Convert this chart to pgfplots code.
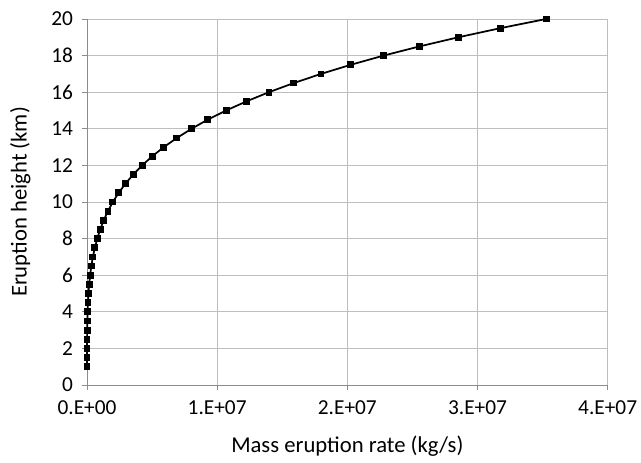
\documentclass[border=0pt]{standalone}
\usepackage{pgfplots}
\pgfplotsset{compat=1.18}
\usepackage{fontspec}
\setmainfont{Carlito}
\definecolor{gridc}{RGB}{190,190,190}
\definecolor{axisc}{RGB}{140,140,140}
\begin{document}
\begin{tikzpicture}
\path[use as bounding box] (-65.25pt,-57.75pt) rectangle (415.5pt,288.75pt);
\begin{axis}[
  at={(0,0)}, anchor=south west,
  scale only axis, width=390.5pt, height=274.5pt,
  xmin=0, xmax=4e7, ymin=0, ymax=20,
  xtick={0,1e7,2e7,3e7,4e7},
  xticklabels={0.E+00,1.E+07,2.E+07,3.E+07,4.E+07},
  scaled x ticks=false,
  ytick={0,2,...,20},
  /pgf/number format/assume math mode=true,
  font=\fontsize{17}{19}\selectfont,
  tick label style={font=\fontsize{16}{18}\selectfont},
  xticklabel style={yshift=-4pt},
  yticklabel style={xshift=-3pt},
  grid=major,
  major grid style={gridc, line width=0.6pt},
  axis line style={axisc, line width=0.6pt},
  tick style={axisc, line width=0.6pt},
  tick align=outside, major tick length=4pt,
  axis lines*=left,
  xlabel={Mass eruption rate (kg/s)},
  ylabel={Eruption height (km)},
  xlabel style={at={(axis description cs:0.5,-0.167)}, anchor=center},
  ylabel style={at={(axis description cs:-0.128,0.5)}, anchor=center},
  clip=false,
]
\addplot[black, line width=1.3pt, mark=square*, mark size=1.9pt, mark options={solid}] coordinates {
(141,1) (758,1.5) (2500,2) (6310,2.5) (13447,3) (25492,3.5) (44362,4)
(72330,4.5) (112000,5) (166300,5.5) (238600,6) (332600,6.5) (452400,7)
(602300,7.5) (787200,8) (1012000,8.5) (1283000,9) (1606000,9.5) (1985000,10)
(2431000,10.5) (2950000,11) (3548000,11.5) (4234000,12) (5015000,12.5)
(5902000,13) (6903000,13.5) (8027000,14) (9268000,14.5) (10690000,15)
(12250000,15.5) (13975000,16) (15880000,16.5) (17975000,17) (20270000,17.5)
(22780000,18) (25530000,18.5) (28515000,19) (31760000,19.5) (35270000,20)
};
\end{axis}
\end{tikzpicture}
\end{document}
